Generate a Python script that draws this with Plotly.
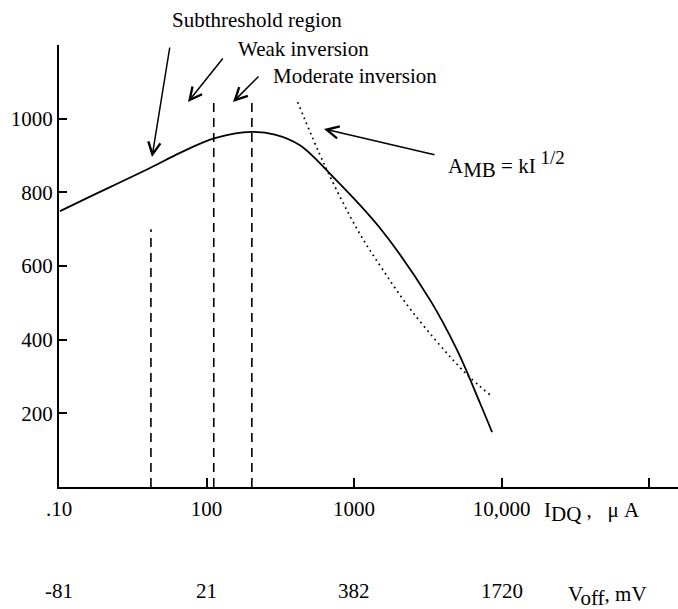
import math
import plotly.graph_objects as go

# ---- data ----
solid_I = [10.16, 14.5, 41.4, 66.1, 114, 203, 291, 430, 721, 1500, 3275, 4993, 7147, 8630]
solid_A = [749, 779, 866, 907, 947, 964, 957, 928, 842, 703, 508, 372, 228, 149]

dot_I = [415, 632, 1057, 1537, 2494, 5610, 8550]
dot_A = [1045, 874, 698, 595, 475, 312, 247]

dash_I = [42, 112, 203]
dash_top = [700, 1050, 1050]

x_tickvals = [10, 100, 1000, 10000, 100000]
x_ticktext = [".10", "100", "1000", "10,000", ""]
y_tickvals = [200, 400, 600, 800, 1000]
voff_labels = ["-81", "21", "382", "1720"]
voff_I = [10, 100, 1000, 10000]

FONT = "Liberation Serif"
FS = 21
NB = "\u00a0"

# plot area geometry (pixels)
W, H = 678, 609
L, R, T, B = 59, 0, 45, 122
PW, PH = W - L - R, H - T - B


def px(x):
    return (x - L) / PW


def py(y):
    return (H - B - y) / PH


fig = go.Figure()

for xi, top in zip(dash_I, dash_top):
    fig.add_trace(go.Scatter(x=[xi, xi], y=[0, top], mode="lines",
                             line=dict(color="black", width=1.6, dash="9px,6px"),
                             hoverinfo="skip", showlegend=False))

fig.add_trace(go.Scatter(x=dot_I, y=dot_A, mode="lines", line_shape="spline",
                         line=dict(color="black", width=1.7, dash="1.7px,3.8px"),
                         showlegend=False))

fig.add_trace(go.Scatter(x=solid_I, y=solid_A, mode="lines", line_shape="spline",
                         line=dict(color="black", width=1.8), showlegend=False))

decades = PW / 147.5
fig.update_xaxes(type="log", range=[1, 1 + decades], tickvals=x_tickvals, ticktext=x_ticktext,
                 showline=True, linecolor="black", linewidth=2, ticks="inside", ticklen=9,
                 tickwidth=1.5, tickcolor="black", showgrid=False, zeroline=False,
                 ticklabelstandoff=2, tickfont=dict(family=FONT, size=FS, color="black"))
fig.update_yaxes(range=[0, 1200], tickvals=y_tickvals, showline=True, linecolor="black",
                 linewidth=2, ticks="inside", ticklen=8, tickwidth=1.5, tickcolor="black",
                 showgrid=False, zeroline=False,
                 tickfont=dict(family=FONT, size=FS, color="black"))

ann = []
# arrows (head, tail in pixels)
arrows = [((152, 157), (170, 46)), ((188, 102), (224, 57)),
          ((233, 102), (260, 75)), ((324, 129), (436, 155))]
for (hx, hy), (tx, ty) in arrows:
    ann.append(dict(x=px(hx), y=py(hy), xref="paper", yref="paper", text="",
                    showarrow=True, arrowhead=5, arrowsize=1.6, arrowwidth=1.5,
                    arrowcolor="black", ax=tx - hx, ay=ty - hy, standoff=0))

texts = [("Subthreshold region", 170, 20), ("Weak inversion", 236, 49),
         ("Moderate inversion", 271, 76),
         ("A<sub><span style='font-size:21px'>MB</span></sub> = kI"
          "<sup><span style='font-size:19px'>" + NB + "1/2</span></sup>", 446, 164),
         ("I<sub><span style='font-size:21px'>DQ</span></sub>" + NB + "," + NB * 3
          + "μ" + NB + "A", 542, 512),
         ("V<sub><span style='font-size:21px'>off</span></sub>," + NB + "mV", 566, 596)]
for t, x, y in texts:
    ann.append(dict(x=px(x), y=py(y), xref="paper", yref="paper", text=t,
                    showarrow=False, xanchor="left", yanchor="middle",
                    font=dict(family=FONT, size=FS, color="black")))

for lab, xi in zip(voff_labels, voff_I):
    ann.append(dict(x=math.log10(xi), y=py(591), xref="x", yref="paper", text=lab,
                    showarrow=False, xanchor="center", yanchor="middle",
                    font=dict(family=FONT, size=FS, color="black")))

fig.update_layout(width=W, height=H, margin=dict(l=L, r=R, t=T, b=B),
                  paper_bgcolor="white", plot_bgcolor="white", annotations=ann,
                  showlegend=False)

fig.write_html("out.html")
